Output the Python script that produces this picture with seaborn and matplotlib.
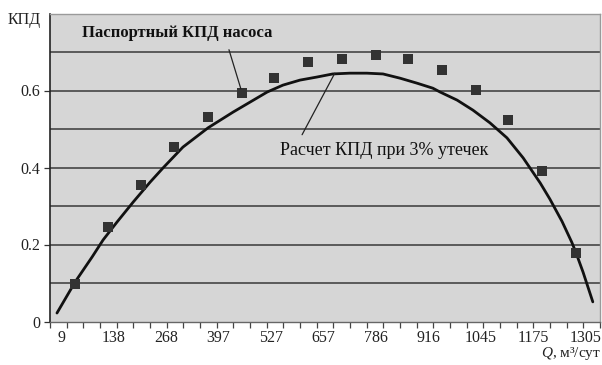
import numpy as np
import pandas as pd
import matplotlib
matplotlib.use('Agg')
import matplotlib.pyplot as plt
import seaborn as sns

# Паспортные точки КПД насоса (маркеры)
q_pasp = [44, 125, 207, 288, 372, 456, 535, 619, 703, 787, 866, 950, 1033, 1112, 1196, 1280]
kpd_pasp = [0.097, 0.245, 0.355, 0.453, 0.531, 0.594, 0.632, 0.674, 0.682, 0.692,
            0.682, 0.653, 0.601, 0.523, 0.391, 0.178]

# Расчетная кривая КПД при 3% утечек
q_rasch = [-1, 44, 86, 113, 147, 187, 229, 261, 310, 372, 434, 476, 518, 557, 599,
           641, 680, 722, 764, 804, 846, 888, 927, 945, 987, 1026, 1068, 1110, 1150,
           1192, 1216, 1246, 1270, 1280, 1298, 1322]
kpd_rasch = [0.022, 0.103, 0.168, 0.212, 0.258, 0.310, 0.362, 0.399, 0.453, 0.503,
             0.544, 0.570, 0.596, 0.614, 0.627, 0.635, 0.643, 0.645, 0.645, 0.643,
             0.632, 0.619, 0.606, 0.596, 0.575, 0.549, 0.516, 0.477, 0.425,
             0.360, 0.318, 0.260, 0.206, 0.180, 0.128, 0.051]

x_labels = [9, 138, 268, 397, 527, 657, 786, 916, 1045, 1175, 1305]
y_labels = [0, 0.2, 0.4, 0.6]

df_pasp = pd.DataFrame({'Q': q_pasp, 'КПД': kpd_pasp})
df_rasch = pd.DataFrame({'Q': q_rasch, 'КПД': kpd_rasch})

sns.set_theme(style="white")
plt.rcParams['font.family'] = ['Liberation Serif', 'DejaVu Serif']
plt.rcParams['mathtext.fontset'] = 'custom'
plt.rcParams['mathtext.it'] = 'Liberation Serif:italic'
plt.rcParams['mathtext.rm'] = 'Liberation Serif'

fig = plt.figure(figsize=(6.02, 3.65), dpi=100)
ax = fig.add_axes([50 / 602, 43.5 / 365, 550 / 602, 308 / 365])
ax.set_facecolor('#d6d6d6')

# сетка через 0.1
for v in np.arange(0.1, 0.8, 0.1):
    ax.axhline(v, color='#505050', lw=1.3, zorder=1)

sns.lineplot(data=df_rasch, x='Q', y='КПД', color='#111111', lw=2.0,
             sort=False, estimator=None, ax=ax, zorder=3)
sns.scatterplot(data=df_pasp, x='Q', y='КПД', marker='s', s=50, color='#333333',
                edgecolor='#333333', linewidth=0, ax=ax, zorder=4)

ax.set_xlim(-18.2, 1339.5)
ax.set_ylim(0, 0.8)

ax.set_xticks(x_labels)
ax.set_xticklabels([str(v) for v in x_labels], fontsize=11.5, color='#222222')
ax.set_xticks(np.arange(-18.2, 1340, 41.15), minor=True)
ax.tick_params(axis='x', which='major', length=0, pad=6)
ax.tick_params(axis='x', which='minor', length=4, width=0.9, color='#444444', bottom=True)

ax.set_yticks(y_labels)
ax.set_yticklabels(['0', '0.2', '0.4', '0.6'], fontsize=11.5, color='#222222')
ax.tick_params(axis='y', which='major', length=4, width=0.9, color='#333333', left=True, pad=3)

ax.set_xlabel('')
ax.set_ylabel('')

for side in ['top', 'right']:
    ax.spines[side].set_color('#9a9a9a')
    ax.spines[side].set_linewidth(1.0)
ax.spines['left'].set_color('#222222')
ax.spines['left'].set_linewidth(1.2)
ax.spines['bottom'].set_color('#666666')
ax.spines['bottom'].set_linewidth(1.0)

fig.text(8 / 602, 1 - 20 / 365, 'КПД', fontsize=11.5, color='#222222', va='center', ha='left')
fig.text(601 / 602, 1 - 354 / 365, r'$Q$, м³/сут', fontsize=11, color='#222222',
         va='center', ha='right')

ax.annotate('Паспортный КПД насоса', xy=(456, 0.594), xytext=(295, 0.749),
            fontsize=12, fontweight='bold', color='#111111', ha='center', va='center',
            arrowprops=dict(arrowstyle='-', color='#222222', lw=0.9,
                            relpos=(0.76, 0), shrinkA=4, shrinkB=3), zorder=5)
ax.annotate('Расчет КПД при 3% утечек', xy=(685, 0.645), xytext=(806, 0.445),
            fontsize=13, color='#111111', ha='center', va='center',
            arrowprops=dict(arrowstyle='-', color='#222222', lw=0.9,
                            relpos=(0.09, 1), shrinkA=3, shrinkB=0), zorder=5)

fig.savefig('out.png', dpi=100, facecolor='white')
